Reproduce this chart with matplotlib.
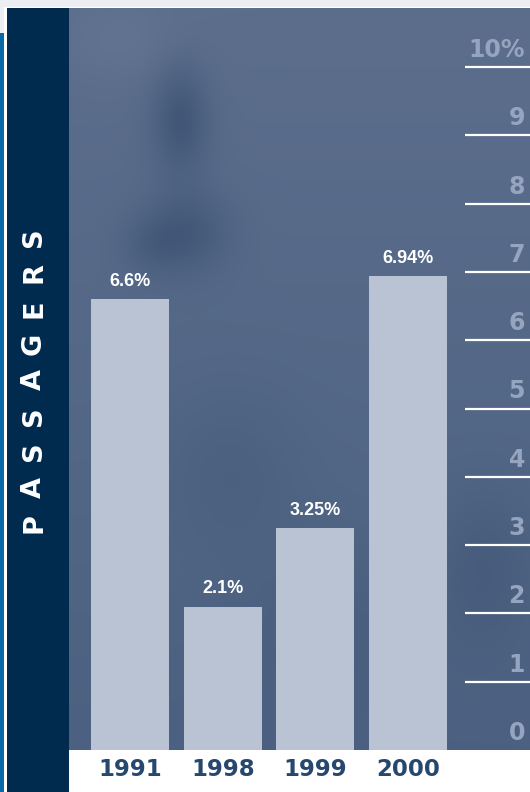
import numpy as np
import matplotlib
matplotlib.use("Agg")
import matplotlib.pyplot as plt
from matplotlib.patches import Rectangle

# Passenger growth by year (%)
years = ["1991", "1998", "1999", "2000"]
shares = [6.6, 2.1, 3.25, 6.94]
value_labels = ["6.6%", "2.1%", "3.25%", "6.94%"]
tick_values = [0, 1, 2, 3, 4, 5, 6, 7, 8, 9, 10]
tick_labels = ["0", "1", "2", "3", "4", "5", "6", "7", "8", "9", "10%"]
side_title = "PASSAGERS"

W, H = 530, 792
NAVY = "#002a4e"
BAR = "#bac3d4"
TICK_TXT = "#95a5bf"
YEAR_TXT = "#27486e"

fig = plt.figure(figsize=(W / 100, H / 100), dpi=100)

# Page frame drawn in pixel coordinates
bg = fig.add_axes([0, 0, 1, 1])
bg.set_xlim(0, W)
bg.set_ylim(H, 0)
bg.axis("off")
bg.add_patch(Rectangle((0, 0), W, H, color="#eceef2", lw=0))
bg.add_patch(Rectangle((0, 33), 4, H, color="#0b68a8", lw=0))
bg.add_patch(Rectangle((4, 7), W, H, color="white", lw=0))
bg.add_patch(Rectangle((7, 8), 62, H, color=NAVY, lw=0))

# Vertical side title, letters spread along the band
n = len(side_title)
y_start, y_end = 523, 237
for i, ch in enumerate(side_title):
    yc = y_start + (y_end - y_start) * i / (n - 1)
    bg.text(34, yc, ch, rotation=90, ha="center", va="center",
            fontsize=19.5, fontweight="bold", color="white",
            family="DejaVu Sans")

# Plot area
px_left, px_right, px_top, px_bottom = 69, 530, 8, 750
ax = fig.add_axes([px_left / W, (H - px_bottom) / H,
                   (px_right - px_left) / W, (px_bottom - px_top) / H])
step = 92.7
x0 = 130
xlim = ((px_left - x0) / step, (px_right - x0) / step)
unit = 68.3
ylim = (0, (px_bottom - px_top) / unit)
ax.set_xlim(*xlim)
ax.set_ylim(*ylim)
for s in ax.spines.values():
    s.set_visible(False)
ax.set_xticks([])
ax.set_yticks([])

# Cloudy blue backdrop
ny, nx = 300, 200
yy, xx = np.mgrid[0:ny, 0:nx]
py = px_top + (px_bottom - px_top) * yy / (ny - 1)
pxx = px_left + (px_right - px_left) * xx / (nx - 1)
top_c = np.array([92, 110, 140]) / 255
bot_c = np.array([76, 97, 129]) / 255
dark_c = np.array([62, 83, 116]) / 255
t = ((py - px_top) / (px_bottom - px_top))[..., None]
img = top_c * (1 - t) + bot_c * t
shade = np.zeros((ny, nx))
for cx, cy, sx, sy, k in [(180, 120, 20, 38, 0.85), (188, 232, 30, 30, 0.7),
                          (150, 245, 22, 22, 0.4), (230, 470, 50, 60, 0.3),
                          (485, 570, 35, 60, 0.45), (330, 640, 60, 60, 0.3),
                          (120, 40, 40, 30, -0.2)]:
    shade += k * np.exp(-((pxx - cx) ** 2 / (2 * sx ** 2) + (py - cy) ** 2 / (2 * sy ** 2)))
shade = np.clip(shade, -0.3, 1)[..., None]
img = img * (1 - shade) + dark_c * shade
ax.imshow(np.clip(img, 0, 1), extent=(xlim[0], xlim[1], ylim[0], ylim[1]),
          aspect="auto", origin="upper", interpolation="bicubic", zorder=0)

# Bars
xpos = np.arange(len(years))
ax.bar(xpos, shares, width=0.84, color=BAR, lw=0, zorder=2)

# Value labels above bars
for x, v, lab in zip(xpos, shares, value_labels):
    ax.annotate(lab, (x, v), xytext=(0, 9.5), textcoords="offset points",
                ha="center", va="baseline", fontsize=13, fontweight="bold",
                color="white", family="Liberation Sans", zorder=4)

# Right-hand scale
ytr = ax.get_yaxis_transform()
ax.hlines(tick_values[1:], 0.859, 1.0, transform=ytr, color="white",
          lw=1.6, zorder=3)
for v, lab in zip(tick_values, tick_labels):
    ax.text(0.989, v + 0.25, lab, transform=ytr, ha="right", va="center",
            fontsize=17, fontweight="bold", color=TICK_TXT,
            family="DejaVu Sans", zorder=4)

# Year labels under the bars
for x, yr in zip(xpos, years):
    ax.text(x, -0.29, yr, ha="center", va="center", fontsize=16.5,
            fontweight="bold", color=YEAR_TXT, family="DejaVu Sans",
            clip_on=False)

fig.savefig("out.png", dpi=100)
